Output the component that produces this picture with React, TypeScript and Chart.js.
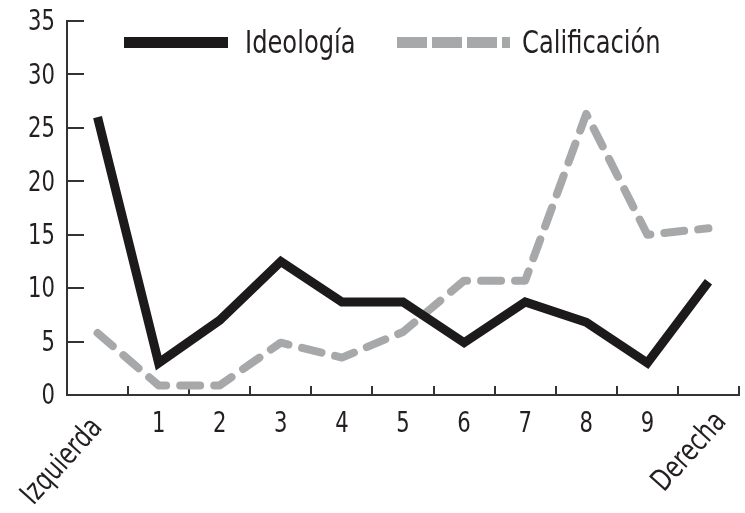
import React, { useEffect, useRef } from "react";
import { Chart, registerables } from "chart.js";

Chart.register(...registerables);

const categories = ["Izquierda", "1", "2", "3", "4", "5", "6", "7", "8", "9", "Derecha"];
const ideologia = [26, 3, 7, 12.5, 8.7, 8.7, 4.9, 8.7, 6.8, 3, 10.6];
const calificacion = [5.8, 0.9, 0.9, 4.9, 3.5, 5.9, 10.7, 10.7, 26.3, 15, 15.6];
const yTicks = [0, 5, 10, 15, 20, 25, 30, 35];
const seriesNames = ["Ideología", "Calificación"];

const FONT = '"DejaVu Sans Condensed", "Liberation Sans Narrow", sans-serif';
const SX = 0.84; // horizontal squeeze to mimic the condensed face
const AXIS_COLOR = "#333333";
const TEXT_COLOR = "#231f20";
const BLACK = "#1c1a1b";
const GRAY = "#a7a8aa";

function squeezedText(ctx: CanvasRenderingContext2D, text: string, x: number, y: number, align: CanvasTextAlign, baseline: CanvasTextBaseline, rot = 0) {
  ctx.save();
  ctx.translate(x, y);
  if (rot) ctx.rotate(rot);
  ctx.scale(SX, 1);
  ctx.textAlign = align;
  ctx.textBaseline = baseline;
  ctx.fillText(text, 0, 0);
  ctx.restore();
}

const decorPlugin = {
  id: "decor",
  beforeDatasetsDraw(chart: any) {
    const ctx = chart.ctx;
    const xs = chart.scales.x;
    const ys = chart.scales.y;
    const area = chart.chartArea;
    ctx.save();
    ctx.strokeStyle = AXIS_COLOR;
    ctx.lineWidth = 2;
    yTicks.forEach((v) => {
      if (v === 0) return;
      const y = Math.round(ys.getPixelForValue(v));
      ctx.beginPath();
      ctx.moveTo(area.left, y);
      ctx.lineTo(area.left + 17, y);
      ctx.stroke();
    });
    for (let i = 1; i <= categories.length; i++) {
      let x: number;
      if (i === categories.length) x = area.right;
      else x = (xs.getPixelForValue(i - 1) + xs.getPixelForValue(i)) / 2;
      x = Math.round(x);
      ctx.beginPath();
      ctx.moveTo(x, area.bottom);
      ctx.lineTo(x, area.bottom - 9);
      ctx.stroke();
    }
    ctx.restore();
  },
  afterDraw(chart: any) {
    const ctx = chart.ctx;
    const xs = chart.scales.x;
    const ys = chart.scales.y;
    ctx.save();
    ctx.fillStyle = TEXT_COLOR;
    // y labels
    ctx.font = `28px ${FONT}`;
    yTicks.forEach((v) => {
      squeezedText(ctx, String(v), 55, ys.getPixelForValue(v) + 2, "right", "middle");
    });
    // x labels
    categories.forEach((lab, i) => {
      const x = xs.getPixelForValue(i);
      if (i === 0 || i === categories.length - 1) {
        ctx.font = `30px ${FONT}`;
        const dx = i === 0 ? 0 : 13;
        const y = i === 0 ? 423 : 417;
        squeezedText(ctx, lab, x + dx, y, "right", "middle", (-48 * Math.PI) / 180);
      } else {
        ctx.font = `28px ${FONT}`;
        squeezedText(ctx, lab, x, 432, "center", "alphabetic");
      }
    });
    // legend
    const ds = chart.data.datasets;
    ctx.lineCap = "butt";
    ctx.lineWidth = 11;
    ctx.strokeStyle = ds[0].borderColor;
    ctx.setLineDash([]);
    ctx.beginPath();
    ctx.moveTo(124, 42.5);
    ctx.lineTo(228, 42.5);
    ctx.stroke();
    ctx.strokeStyle = ds[1].borderColor;
    ctx.setLineDash([30, 5]);
    ctx.beginPath();
    ctx.moveTo(397, 42.5);
    ctx.lineTo(510, 42.5);
    ctx.stroke();
    ctx.setLineDash([]);
    ctx.font = `32px ${FONT}`;
    ctx.fillStyle = TEXT_COLOR;
    squeezedText(ctx, ds[0].label, 245, 53, "left", "alphabetic");
    squeezedText(ctx, ds[1].label, 522, 53, "left", "alphabetic");
    ctx.restore();
  },
};

export default function App() {
  const ref = useRef<HTMLCanvasElement>(null);
  useEffect(() => {
    document.body.style.margin = "0";
    const canvas = ref.current!;
    const chart = new Chart(canvas, {
      type: "line",
      data: {
        labels: categories,
        datasets: [
          {
            label: seriesNames[0],
            data: ideologia,
            borderColor: BLACK,
            backgroundColor: BLACK,
            borderWidth: 9,
            pointRadius: 0,
            tension: 0,
            borderJoinStyle: "miter",
            borderCapStyle: "butt",
          },
          {
            label: seriesNames[1],
            data: calificacion,
            borderColor: GRAY,
            backgroundColor: GRAY,
            borderWidth: 8,
            pointRadius: 0,
            tension: 0,
            borderDash: [20, 14],
            borderJoinStyle: "round",
            borderCapStyle: "round",
          },
        ],
      },
      options: {
        responsive: false,
        animation: false,
        devicePixelRatio: 1,
        layout: { padding: { top: 21, right: 6, left: 0, bottom: 0 } },
        plugins: {
          legend: { display: false },
          tooltip: { enabled: false },
        },
        scales: {
          x: {
            type: "category",
            offset: true,
            grid: { display: false },
            border: { display: true, color: AXIS_COLOR, width: 2 },
            ticks: { display: false },
            afterFit: (s: any) => {
              s.height = 513 - 395;
            },
          },
          y: {
            min: 0,
            max: 35,
            grid: { display: false },
            border: { display: true, color: AXIS_COLOR, width: 2 },
            ticks: { display: false, stepSize: 5 },
            afterFit: (s: any) => {
              s.width = 67;
            },
          },
        },
      },
      plugins: [decorPlugin],
    });
    return () => chart.destroy();
  }, []);
  return (
    <div style={{ width: 745, height: 513 }}>
      <canvas ref={ref} width={745} height={513} />
    </div>
  );
}
